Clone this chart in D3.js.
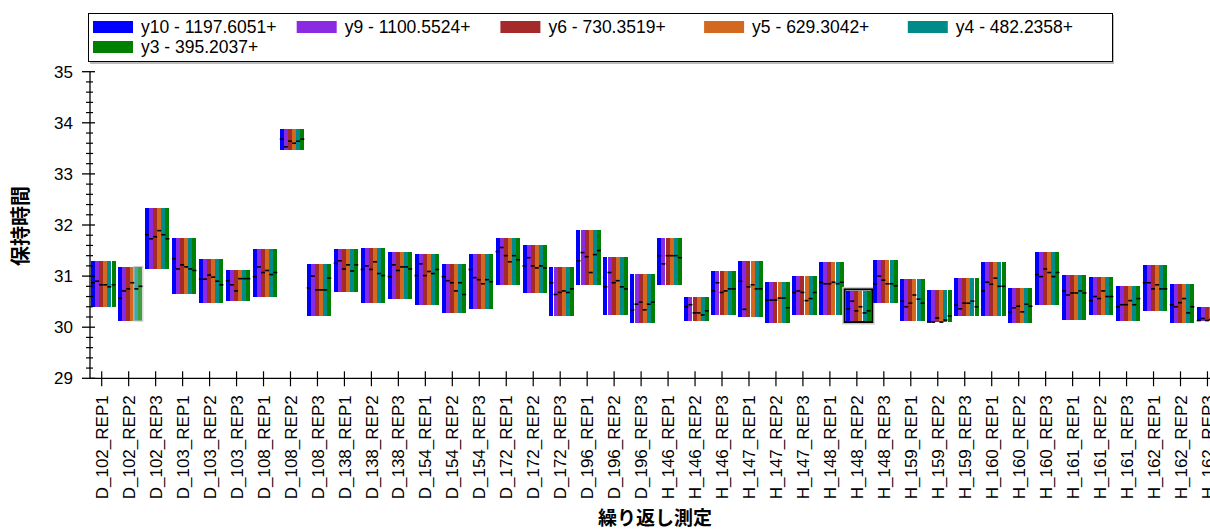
<!DOCTYPE html>
<html><head><meta charset="utf-8">
<script src="https://cdn.jsdelivr.net/npm/d3@7"></script>
<style>
body{margin:0;background:#fff;overflow:hidden;}
svg{display:block;font-family:"Liberation Sans",Arial,sans-serif;}
</style>
</head><body><svg id="chart" width="1210" height="529"></svg>
<script>
const categories = ["D_102_REP1","D_102_REP2","D_102_REP3","D_103_REP1","D_103_REP2","D_103_REP3",
"D_108_REP1","D_108_REP2","D_108_REP3","D_138_REP1","D_138_REP2","D_138_REP3",
"D_154_REP1","D_154_REP2","D_154_REP3","D_172_REP1","D_172_REP2","D_172_REP3",
"D_196_REP1","D_196_REP2","D_196_REP3","H_146_REP1","H_146_REP2","H_146_REP3",
"H_147_REP1","H_147_REP2","H_147_REP3","H_148_REP1","H_148_REP2","H_148_REP3",
"H_159_REP1","H_159_REP2","H_159_REP3","H_160_REP1","H_160_REP2","H_160_REP3",
"H_161_REP1","H_161_REP2","H_161_REP3","H_162_REP1","H_162_REP2","H_162_REP3"];

const rangeHigh = [31.30,31.18,32.33,31.75,31.33,31.12,31.53,33.88,31.24,31.53,31.55,31.47,
31.43,31.24,31.43,31.75,31.61,31.18,31.90,31.37,31.04,31.75,30.59,31.10,
31.30,30.88,31.00,31.28,30.71,31.32,30.94,30.73,30.96,31.28,30.77,31.47,
31.02,30.98,30.81,31.22,30.85,30.40];
const rangeLow = [30.40,30.13,31.14,30.64,30.48,30.52,30.60,33.47,30.21,30.68,30.48,30.56,
30.44,30.28,30.36,30.83,30.66,30.21,30.83,30.24,30.09,30.83,30.13,30.24,
30.19,30.09,30.24,30.24,30.13,30.48,30.13,30.11,30.21,30.21,30.09,30.44,
30.15,30.24,30.13,30.32,30.09,30.13];

const y10 = [30.87,30.57,31.81,31.34,30.94,30.91,30.99,33.68,30.77,31.25,31.13,30.99,
31.01,30.99,31.13,31.48,31.20,30.87,31.30,30.79,30.34,31.40,30.40,30.71,
30.90,30.53,30.68,30.88,30.36,30.85,30.51,30.10,30.43,30.71,30.30,31.03,
30.71,30.52,30.40,30.87,30.44,30.13];
const y9 = [30.90,30.71,31.73,31.14,30.94,30.83,31.18,33.53,31.00,31.30,31.20,31.22,
31.24,30.91,30.97,31.56,31.36,30.64,31.46,31.07,30.45,31.24,30.44,30.87,
30.35,30.53,30.71,30.85,30.51,31.00,30.40,30.10,30.36,30.88,30.38,30.99,
30.63,30.60,30.44,30.87,30.40,30.17];
const y6 = [30.83,30.75,31.77,31.22,31.02,30.71,31.07,33.64,30.73,31.14,31.13,31.11,
31.01,30.87,30.93,31.40,31.20,30.68,31.38,30.87,30.49,31.40,30.28,30.68,
30.79,30.53,30.68,30.85,30.32,30.92,30.47,30.18,30.47,30.84,30.41,31.14,
30.67,30.56,30.44,30.75,30.48,30.13];
const y5 = [30.83,30.87,31.89,31.18,30.98,30.95,31.11,33.60,30.73,31.22,31.28,31.18,
31.09,30.71,30.85,31.28,31.16,30.71,31.07,30.91,30.34,31.40,30.28,30.71,
30.83,30.57,30.52,30.88,30.40,30.85,30.63,30.10,30.47,30.96,30.30,31.07,
30.67,30.71,30.52,30.83,30.56,30.15];
const y4 = [30.79,30.75,31.81,31.14,30.90,30.95,31.03,33.64,30.73,31.10,31.05,31.18,
31.05,30.87,30.93,31.40,31.20,30.68,31.42,30.79,30.45,31.40,30.24,30.75,
30.75,30.57,30.56,30.85,30.28,30.85,30.55,30.14,30.51,30.80,30.45,30.99,
30.71,30.60,30.44,30.75,30.28,30.16];
const y3 = [30.83,30.80,31.73,31.11,30.83,30.95,31.07,33.68,30.96,31.22,31.01,31.14,
31.13,30.64,30.89,31.32,31.16,30.75,31.50,30.75,30.49,31.36,30.32,30.75,
30.75,30.38,30.68,30.88,30.32,30.81,30.47,30.22,30.40,30.80,30.41,31.07,
30.67,30.60,30.56,30.75,30.40,30.14];

const seriesLabels = ["y10 - 1197.6051+","y9 - 1100.5524+","y6 - 730.3519+","y5 - 629.3042+","y4 - 482.2358+","y3 - 395.2037+"];
const seriesColors = ["#0000ff","#8a2be2","#a52a2a","#d2691e","#008b8b","#008000"];
const seriesValues = [y10, y9, y6, y5, y4, y3];
const yTickValues = [29,30,31,32,33,34,35];
const selectedCategory = "H_148_REP2";
const hoverCategory = "D_102_REP2";
const yTitle = "保持時間";
const xTitle = "繰り返し測定";

const svg = d3.select("#chart");
const axisX0 = 90, axisRight = 1210;
const x = d3.scalePoint().domain(categories).range([102.2, 102.2 + 41*26.97]);
const y = d3.scaleLinear().domain([29,35]).range([378.3, 71.7]);

const stripeStep = 4.1, stripeW = 4, boxOffset = -11.2;

// boxes
const g = svg.append("g");
categories.forEach((c,i)=>{
  const left = x(c) + boxOffset;
  const top = y(rangeHigh[i]), bot = y(rangeLow[i]);
  if (c === selectedCategory) {
    g.append("rect").attr("x", left-3).attr("y", top-3).attr("width", 6*stripeStep+6).attr("height", bot-top+6)
      .attr("fill","none").attr("stroke","#d0d0d0").attr("stroke-width",2);
  }
  seriesValues.forEach((vals,j)=>{
    const hov = (c === hoverCategory && j >= 4);
    g.append("rect").attr("x", left + j*stripeStep).attr("y", top)
      .attr("width", stripeW).attr("height", bot-top)
      .attr("fill", seriesColors[j]).attr("fill-opacity", hov ? 0.75 : 1)
      .attr("shape-rendering","crispEdges");
  });
  if (c === hoverCategory) {
    g.append("rect").attr("x", left + 4*stripeStep - 0.5).attr("y", top-0.5).attr("width", 2*stripeStep+0.8).attr("height", bot-top+1)
      .attr("fill","none").attr("stroke","#c8c8c8").attr("stroke-width",1);
  }
  seriesValues.forEach((vals,j)=>{
    const yy = y(vals[i]);
    g.append("line").attr("x1", left + j*stripeStep).attr("x2", left + j*stripeStep + 4)
      .attr("y1", yy).attr("y2", yy).attr("stroke","#000").attr("stroke-width",1.6);
  });
  if (c === selectedCategory) {
    g.append("rect").attr("x", left-1.5).attr("y", top-1.5).attr("width", 6*stripeStep+3).attr("height", bot-top+3)
      .attr("fill","none").attr("stroke","#000").attr("stroke-width",2);
  }
});

// y axis
const yMinor = d3.range(29, 35.001, 0.2).map(v=>+v.toFixed(1)).filter(v=>!yTickValues.includes(v));
const ya = svg.append("g").attr("transform",`translate(${axisX0},0)`);
ya.append("line").attr("x1",0).attr("x2",0).attr("y1",y(35)).attr("y2",y(29)).attr("stroke","#000").attr("stroke-width",1.3);
ya.selectAll("line.minor").data(yMinor).join("line").attr("class","minor")
  .attr("x1",-4).attr("x2",3).attr("y1",d=>y(d)).attr("y2",d=>y(d)).attr("stroke","#000").attr("stroke-width",1.2);
ya.selectAll("line.major").data(yTickValues).join("line").attr("class","major")
  .attr("x1",-8).attr("x2",5).attr("y1",d=>y(d)).attr("y2",d=>y(d)).attr("stroke","#000").attr("stroke-width",1.3);
ya.selectAll("text").data(yTickValues).join("text")
  .attr("x",-17).attr("y",d=>y(d)).attr("dy","0.36em").attr("text-anchor","end")
  .attr("font-size",17).attr("fill","#000").text(d=>d);

// x axis
const xa = svg.append("g").attr("transform",`translate(0,${y(29)})`);
xa.append("line").attr("x1",axisX0).attr("x2",axisRight).attr("y1",0).attr("y2",0).attr("stroke","#000").attr("stroke-width",1.3);
xa.selectAll("line.tick").data(categories).join("line").attr("class","tick")
  .attr("x1",d=>x(d)-0.5).attr("x2",d=>x(d)-0.5).attr("y1",-7).attr("y2",8).attr("stroke","#000").attr("stroke-width",1.2);
xa.selectAll("text").data(categories).join("text")
  .attr("transform",d=>`translate(${x(d)-0.5},17) rotate(-90)`)
  .attr("text-anchor","end").attr("dy","0.36em").attr("font-size",17).attr("fill","#000").text(d=>d);

// titles
svg.append("text").attr("transform","translate(21,226) rotate(-90)")
  .attr("text-anchor","middle").attr("dy","0.36em")
  .attr("font-family","'Noto Sans CJK JP',sans-serif").attr("font-weight","bold").attr("font-size",20).text(yTitle);
svg.append("text").attr("x",655).attr("y",518).attr("text-anchor","middle").attr("dy","0.36em")
  .attr("font-family","'Noto Sans CJK JP',sans-serif").attr("font-weight","bold").attr("font-size",19).text(xTitle);

// legend
const lg = svg.append("g");
lg.append("rect").attr("x",90).attr("y",15).attr("width",1024).attr("height",49).attr("fill","#bbb");
lg.append("rect").attr("x",88.5).attr("y",13.5).attr("width",1024).attr("height",48).attr("fill","#fff").attr("stroke","#000");
seriesLabels.forEach((s,i)=>{
  const col = i%5, row = Math.floor(i/5);
  const sx = 93 + col*203.7, sy = 21 + row*20;
  lg.append("rect").attr("x",sx).attr("y",sy).attr("width",40).attr("height",12).attr("fill",seriesColors[i]);
  lg.append("text").attr("x",sx+48).attr("y",sy+6).attr("dy","0.36em").attr("font-size",17.5).text(s);
});
</script></body></html>
